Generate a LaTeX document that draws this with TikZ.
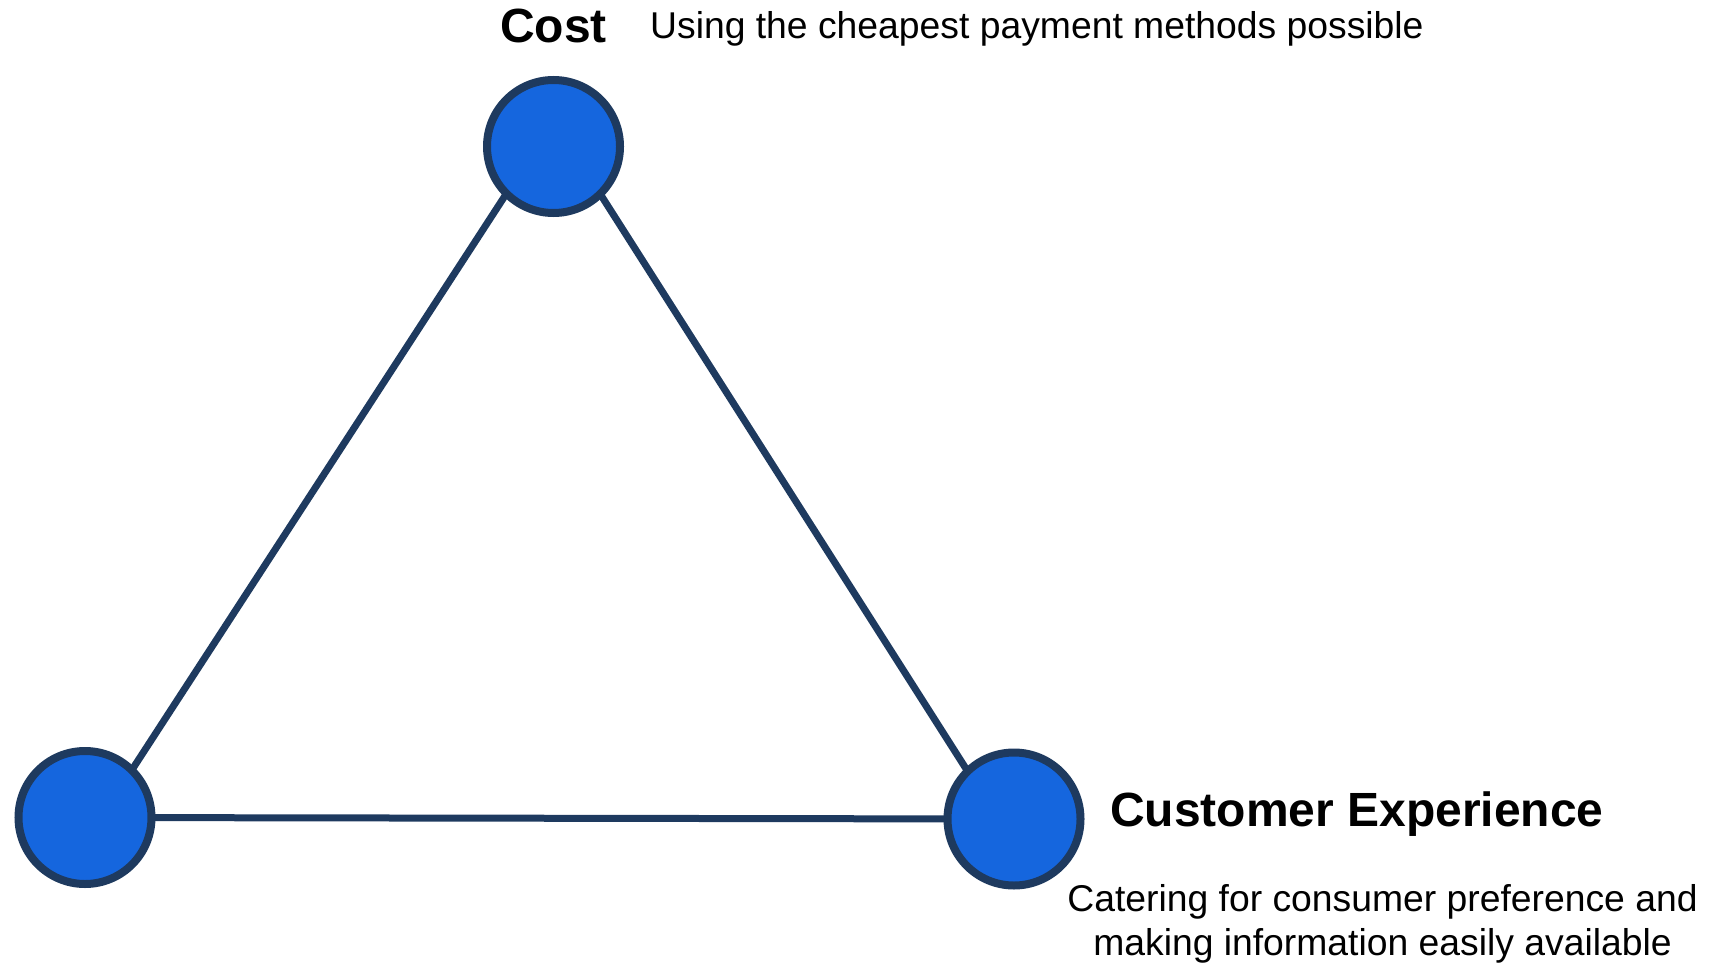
\documentclass[tikz,border=0pt]{standalone}
\usepackage{fontspec}
\setmainfont{Liberation Sans}
\usetikzlibrary{backgrounds}

\definecolor{navy}{HTML}{1E3A5F}
\definecolor{dotblue}{HTML}{1566DE}

\begin{document}
\begin{tikzpicture}[x=1pt, y=-1pt,
    vertex/.style={circle, draw=navy, fill=dotblue, line width=8pt,
        minimum size=133pt, inner sep=0pt},
    edge/.style={draw=navy, line width=7pt},
    heading/.style={font=\fontsize{48}{56}\selectfont\bfseries, inner sep=0pt},
    note/.style={font=\fontsize{37.3}{43.3}\selectfont, inner sep=0pt}]
    \useasboundingbox (0,0) rectangle (1729,963);
    % the three corners
    \foreach \n/\x/\y in {cost/553.5/146.5, left/85/817.5, cx/1014/819} {
        \node[vertex] (\n) at (\x,\y) {};
    }
    % sides run behind the corners
    \begin{scope}[on background layer]
        \draw[edge] ([xshift=-16.5pt]cost.center) -- ([xshift=16pt]left.center);
        \draw[edge] (left.center) -- (cx.center);
        \draw[edge] ([xshift=16.5pt]cost.center) -- ([xshift=-16pt]cx.center);
    \end{scope}
    % labels
    \node[heading, anchor=base] (costlabel) at (553.5,42.5) {Cost};
    \node[note, anchor=base west] (costnote) at (650,38.5)
        {Using the cheapest payment methods possible};
    \node[heading, anchor=base west] (cxlabel) at (1110,826.7) {Customer Experience};
    \node[note, anchor=base, align=center] (cxnote) at (1382.5,955)
        {Catering for consumer preference and\\making information easily available};
\end{tikzpicture}
\end{document}
